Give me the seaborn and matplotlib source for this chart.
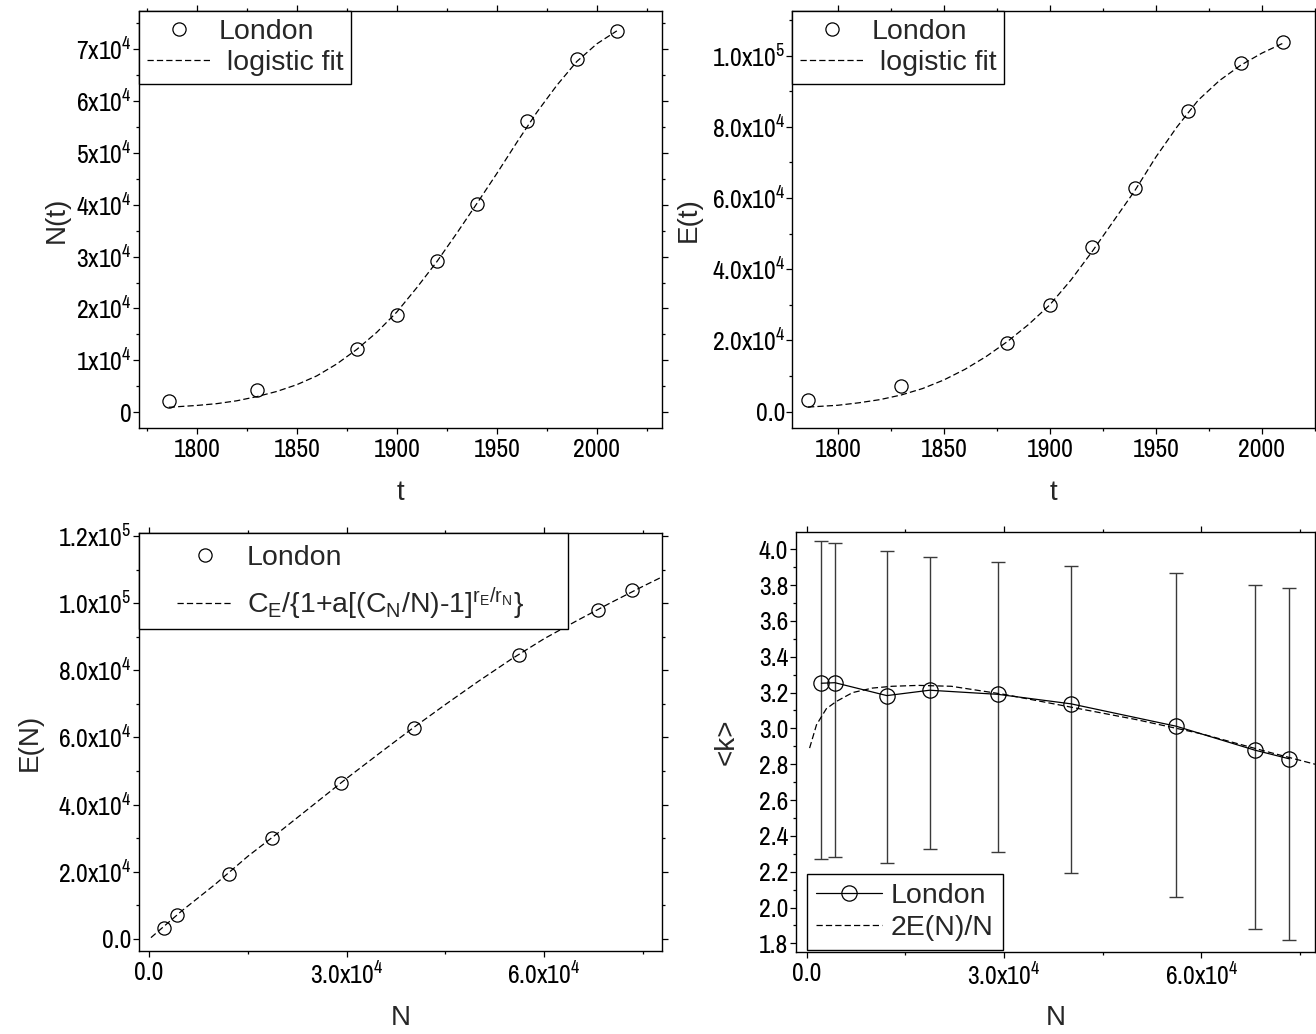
import numpy as np
import seaborn as sns
import matplotlib.pyplot as plt
from matplotlib import font_manager
from matplotlib.ticker import MultipleLocator, FuncFormatter
from matplotlib.patches import Rectangle

# London street network: census years, nodes N(t), edges E(t)
years = [1786, 1830, 1880, 1900, 1920, 1940, 1965, 1990, 2010]
nodes = [2250, 4300, 12200, 18700, 29100, 40200, 56200, 68100, 73400]
edges = [3400, 7100, 19400, 30000, 46300, 62700, 84500, 97900, 103800]

# mean degree <k> with its spread
k_mean = [3.252, 3.255, 3.183, 3.213, 3.190, 3.137, 3.012, 2.879, 2.830]
k_low = [2.270, 2.284, 2.251, 2.325, 2.312, 2.193, 2.056, 1.880, 1.819]
k_high = [4.048, 4.037, 3.989, 3.954, 3.926, 3.909, 3.866, 3.800, 3.783]

# fitted curves
fit_t = [1786, 1800, 1810, 1820, 1830, 1840, 1850, 1860, 1870, 1880, 1890, 1900,
         1910, 1920, 1930, 1940, 1950, 1960, 1970, 1980, 1990, 2000, 2010]
fit_N = [950, 1300, 1650, 2200, 3000, 4000, 5300, 7000, 9300, 12100, 15400, 19300,
         24000, 29000, 34500, 40200, 46000, 52000, 57800, 63000, 67600, 71000, 73500]
fit_E = [1300, 1800, 2500, 3400, 4700, 6500, 8900, 11900, 15500, 19700, 24500, 30000,
         37000, 45000, 53500, 62000, 71500, 80000, 87500, 93000, 97300, 100700, 103500]

fitEN_N = [300, 2000, 5000, 10000, 15000, 20000, 25000, 30000, 35000, 40000,
           45000, 50000, 55000, 60000, 65000, 70000, 75000, 77800]
fitEN_E = [400, 3300, 8400, 16200, 24600, 32200, 40000, 47800, 55300, 62700,
           69800, 76700, 83300, 89400, 94800, 100000, 105000, 107700]

fitk_N = [450, 1500, 3000, 4500, 7000, 10000, 13000, 17000, 22000, 30000,
          40000, 50000, 60000, 70000, 77300]
fitk_k = [2.89, 3.02, 3.11, 3.15, 3.20, 3.225, 3.235, 3.24, 3.235, 3.19,
          3.12, 3.05, 2.97, 2.87, 2.80]

sns.set_theme(style="ticks")
plt.rcParams['font.family'] = ['Liberation Sans', 'DejaVu Sans']
plt.rcParams['mathtext.default'] = 'regular'
plt.rcParams['axes.edgecolor'] = 'black'
plt.rcParams['axes.linewidth'] = 1.0

# condensed face for the tick labels, like the original
names = {f.name for f in font_manager.fontManager.ttflist}
tick_font = 'Liberation Sans'
for cand in ['Liberation Sans Narrow', 'Archivo Narrow']:
    if cand in names:
        tick_font = cand
        break

DASH = (0, (5, 2.5))
LEG_FS = 20.5
LAB_FS = 20


def sci(decimals):
    def f(v, pos):
        if abs(v) < 1e-9:
            return '0' if decimals == 0 else '0.' + '0' * decimals
        e = int(np.floor(np.log10(abs(v)) + 1e-9))
        m = v / 10 ** e
        return f'{m:.{decimals}f}x10$^{{{e}}}$'
    return FuncFormatter(f)


def style(ax):
    ax.tick_params(which='both', direction='out', top=True, right=True,
                   labeltop=False, labelright=False, colors='black',
                   labelsize=18.5, labelfontfamily=tick_font)
    ax.tick_params(axis='x', pad=3.0)
    ax.tick_params(axis='y', pad=1.0)
    ax.tick_params(which='major', length=4.3, width=0.9)
    ax.tick_params(which='minor', length=2.3, width=0.9)
    ax.set_facecolor('white')


def legend(ax, **kw):
    leg = ax.legend(loc='upper left', bbox_to_anchor=(0, 1), borderaxespad=0,
                    fontsize=LEG_FS, frameon=True, fancybox=False, framealpha=1,
                    edgecolor='black', borderpad=0.28, labelspacing=0.2,
                    handlelength=2.25, handletextpad=0.25, **kw)
    leg.get_frame().set_linewidth(1.0)
    return leg


fig = plt.figure(figsize=(13.16, 10.34), dpi=100)
ax_tl = fig.add_axes([0.1059, 0.5858, 0.3970, 0.4039])
ax_tr = fig.add_axes([0.6021, 0.5858, 0.3972, 0.4039])
ax_bl = fig.add_axes([0.1056, 0.0803, 0.3972, 0.4040])
ax_br = fig.add_axes([0.6046, 0.0790, 0.3946, 0.4068])

mk = dict(marker='o', linestyle='none', mfc='none', mec='black', ms=9.5, mew=0.9)
fit = dict(color='black', lw=0.9, linestyle=DASH)

# N(t)
sns.lineplot(x=years, y=nodes, ax=ax_tl, label='London', **mk)
sns.lineplot(x=fit_t, y=fit_N, ax=ax_tl, label=' logistic fit', **fit)
ax_tl.set_xlim(1771.3, 2032.5)
ax_tl.set_ylim(-3100, 77400)
ax_tl.xaxis.set_major_locator(MultipleLocator(50))
ax_tl.xaxis.set_minor_locator(MultipleLocator(25))
ax_tl.yaxis.set_major_locator(MultipleLocator(10000))
ax_tl.yaxis.set_minor_locator(MultipleLocator(5000))
ax_tl.yaxis.set_major_formatter(sci(0))
ax_tl.set_xlabel('t', fontsize=LAB_FS, va='center')
ax_tl.set_ylabel('N(t)', fontsize=LAB_FS, va='center')
ax_tl.xaxis.set_label_coords(0.5, -0.155)
ax_tl.yaxis.set_label_coords(-0.159, 0.5)
style(ax_tl)
legend(ax_tl)

# E(t)
sns.lineplot(x=years, y=edges, ax=ax_tr, label='London', **mk)
sns.lineplot(x=fit_t, y=fit_E, ax=ax_tr, label=' logistic fit', **fit)
ax_tr.set_xlim(1778.6, 2025.1)
ax_tr.set_ylim(-4660, 112640)
ax_tr.xaxis.set_major_locator(MultipleLocator(50))
ax_tr.xaxis.set_minor_locator(MultipleLocator(25))
ax_tr.yaxis.set_major_locator(MultipleLocator(20000))
ax_tr.yaxis.set_minor_locator(MultipleLocator(10000))
ax_tr.yaxis.set_major_formatter(sci(1))
ax_tr.set_xlabel('t', fontsize=LAB_FS, va='center')
ax_tr.set_ylabel('E(t)', fontsize=LAB_FS, va='center')
ax_tr.xaxis.set_label_coords(0.5, -0.155)
ax_tr.yaxis.set_label_coords(-0.198, 0.5)
style(ax_tr)
legend(ax_tr)

# E(N)
sns.lineplot(x=nodes, y=edges, ax=ax_bl, label='London', sort=False, **mk)
sns.lineplot(x=fitEN_N, y=fitEN_E, ax=ax_bl,
             label='C$_E$/{1+a[(C$_N$/N)-1]$^{r_E/r_N}$}', **fit)
ax_bl.set_xlim(-1520, 77840)
ax_bl.set_ylim(-3570, 120800)
ax_bl.xaxis.set_major_locator(MultipleLocator(30000))
ax_bl.xaxis.set_minor_locator(MultipleLocator(15000))
ax_bl.yaxis.set_major_locator(MultipleLocator(20000))
ax_bl.yaxis.set_minor_locator(MultipleLocator(10000))
ax_bl.xaxis.set_major_formatter(sci(1))
ax_bl.yaxis.set_major_formatter(sci(1))
ax_bl.set_xlabel('N', fontsize=LAB_FS, va='center')
ax_bl.set_ylabel('E(N)', fontsize=LAB_FS, va='center')
ax_bl.xaxis.set_label_coords(0.5, -0.16)
ax_bl.yaxis.set_label_coords(-0.209, 0.5)
style(ax_bl)
ax_bl.add_patch(Rectangle((0, 0.771), 0.821, 0.229, transform=ax_bl.transAxes,
                          facecolor='white', edgecolor='black', lw=1.0,
                          zorder=4, clip_on=False))
leg = ax_bl.legend(loc='center', bbox_to_anchor=(0.404, 0.879), fontsize=LEG_FS,
                   frameon=False, labelspacing=0.5, handlelength=1.95,
                   handletextpad=0.5)
leg.set_zorder(5)

# <k>
yerr = [np.array(k_mean) - np.array(k_low), np.array(k_high) - np.array(k_mean)]
ax_br.errorbar(nodes, k_mean, yerr=yerr, fmt='none', ecolor='#3a3a3a',
               elinewidth=1.0, capsize=5, capthick=1.0)
sns.lineplot(x=nodes, y=k_mean, ax=ax_br, label='London', sort=False,
             color='black', lw=0.9, marker='o', mfc='none', mec='black',
             ms=11, mew=0.9)
sns.lineplot(x=fitk_N, y=fitk_k, ax=ax_br, label='2E(N)/N', **fit)
ax_br.set_xlim(-1670, 77290)
ax_br.set_ylim(1.75, 4.098)
ax_br.xaxis.set_major_locator(MultipleLocator(30000))
ax_br.xaxis.set_minor_locator(MultipleLocator(15000))
ax_br.yaxis.set_major_locator(MultipleLocator(0.2))
ax_br.yaxis.set_minor_locator(MultipleLocator(0.1))
ax_br.xaxis.set_major_formatter(sci(1))
ax_br.yaxis.set_major_formatter(FuncFormatter(lambda v, p: f'{v:.1f}'))
ax_br.set_xlabel('N', fontsize=LAB_FS, va='center')
ax_br.set_ylabel('<k>', fontsize=LAB_FS, va='center')
ax_br.xaxis.set_label_coords(0.5, -0.156)
ax_br.yaxis.set_label_coords(-0.132, 0.5)
style(ax_br)
leg = ax_br.legend(loc='lower left', bbox_to_anchor=(0.022, 0.005), borderaxespad=0,
                   fontsize=LEG_FS, frameon=True, fancybox=False, framealpha=1,
                   edgecolor='black', borderpad=0.33, labelspacing=0.2,
                   handlelength=2.3, handletextpad=0.3)
leg.get_frame().set_linewidth(1.0)

fig.savefig('out.png', dpi=100)
